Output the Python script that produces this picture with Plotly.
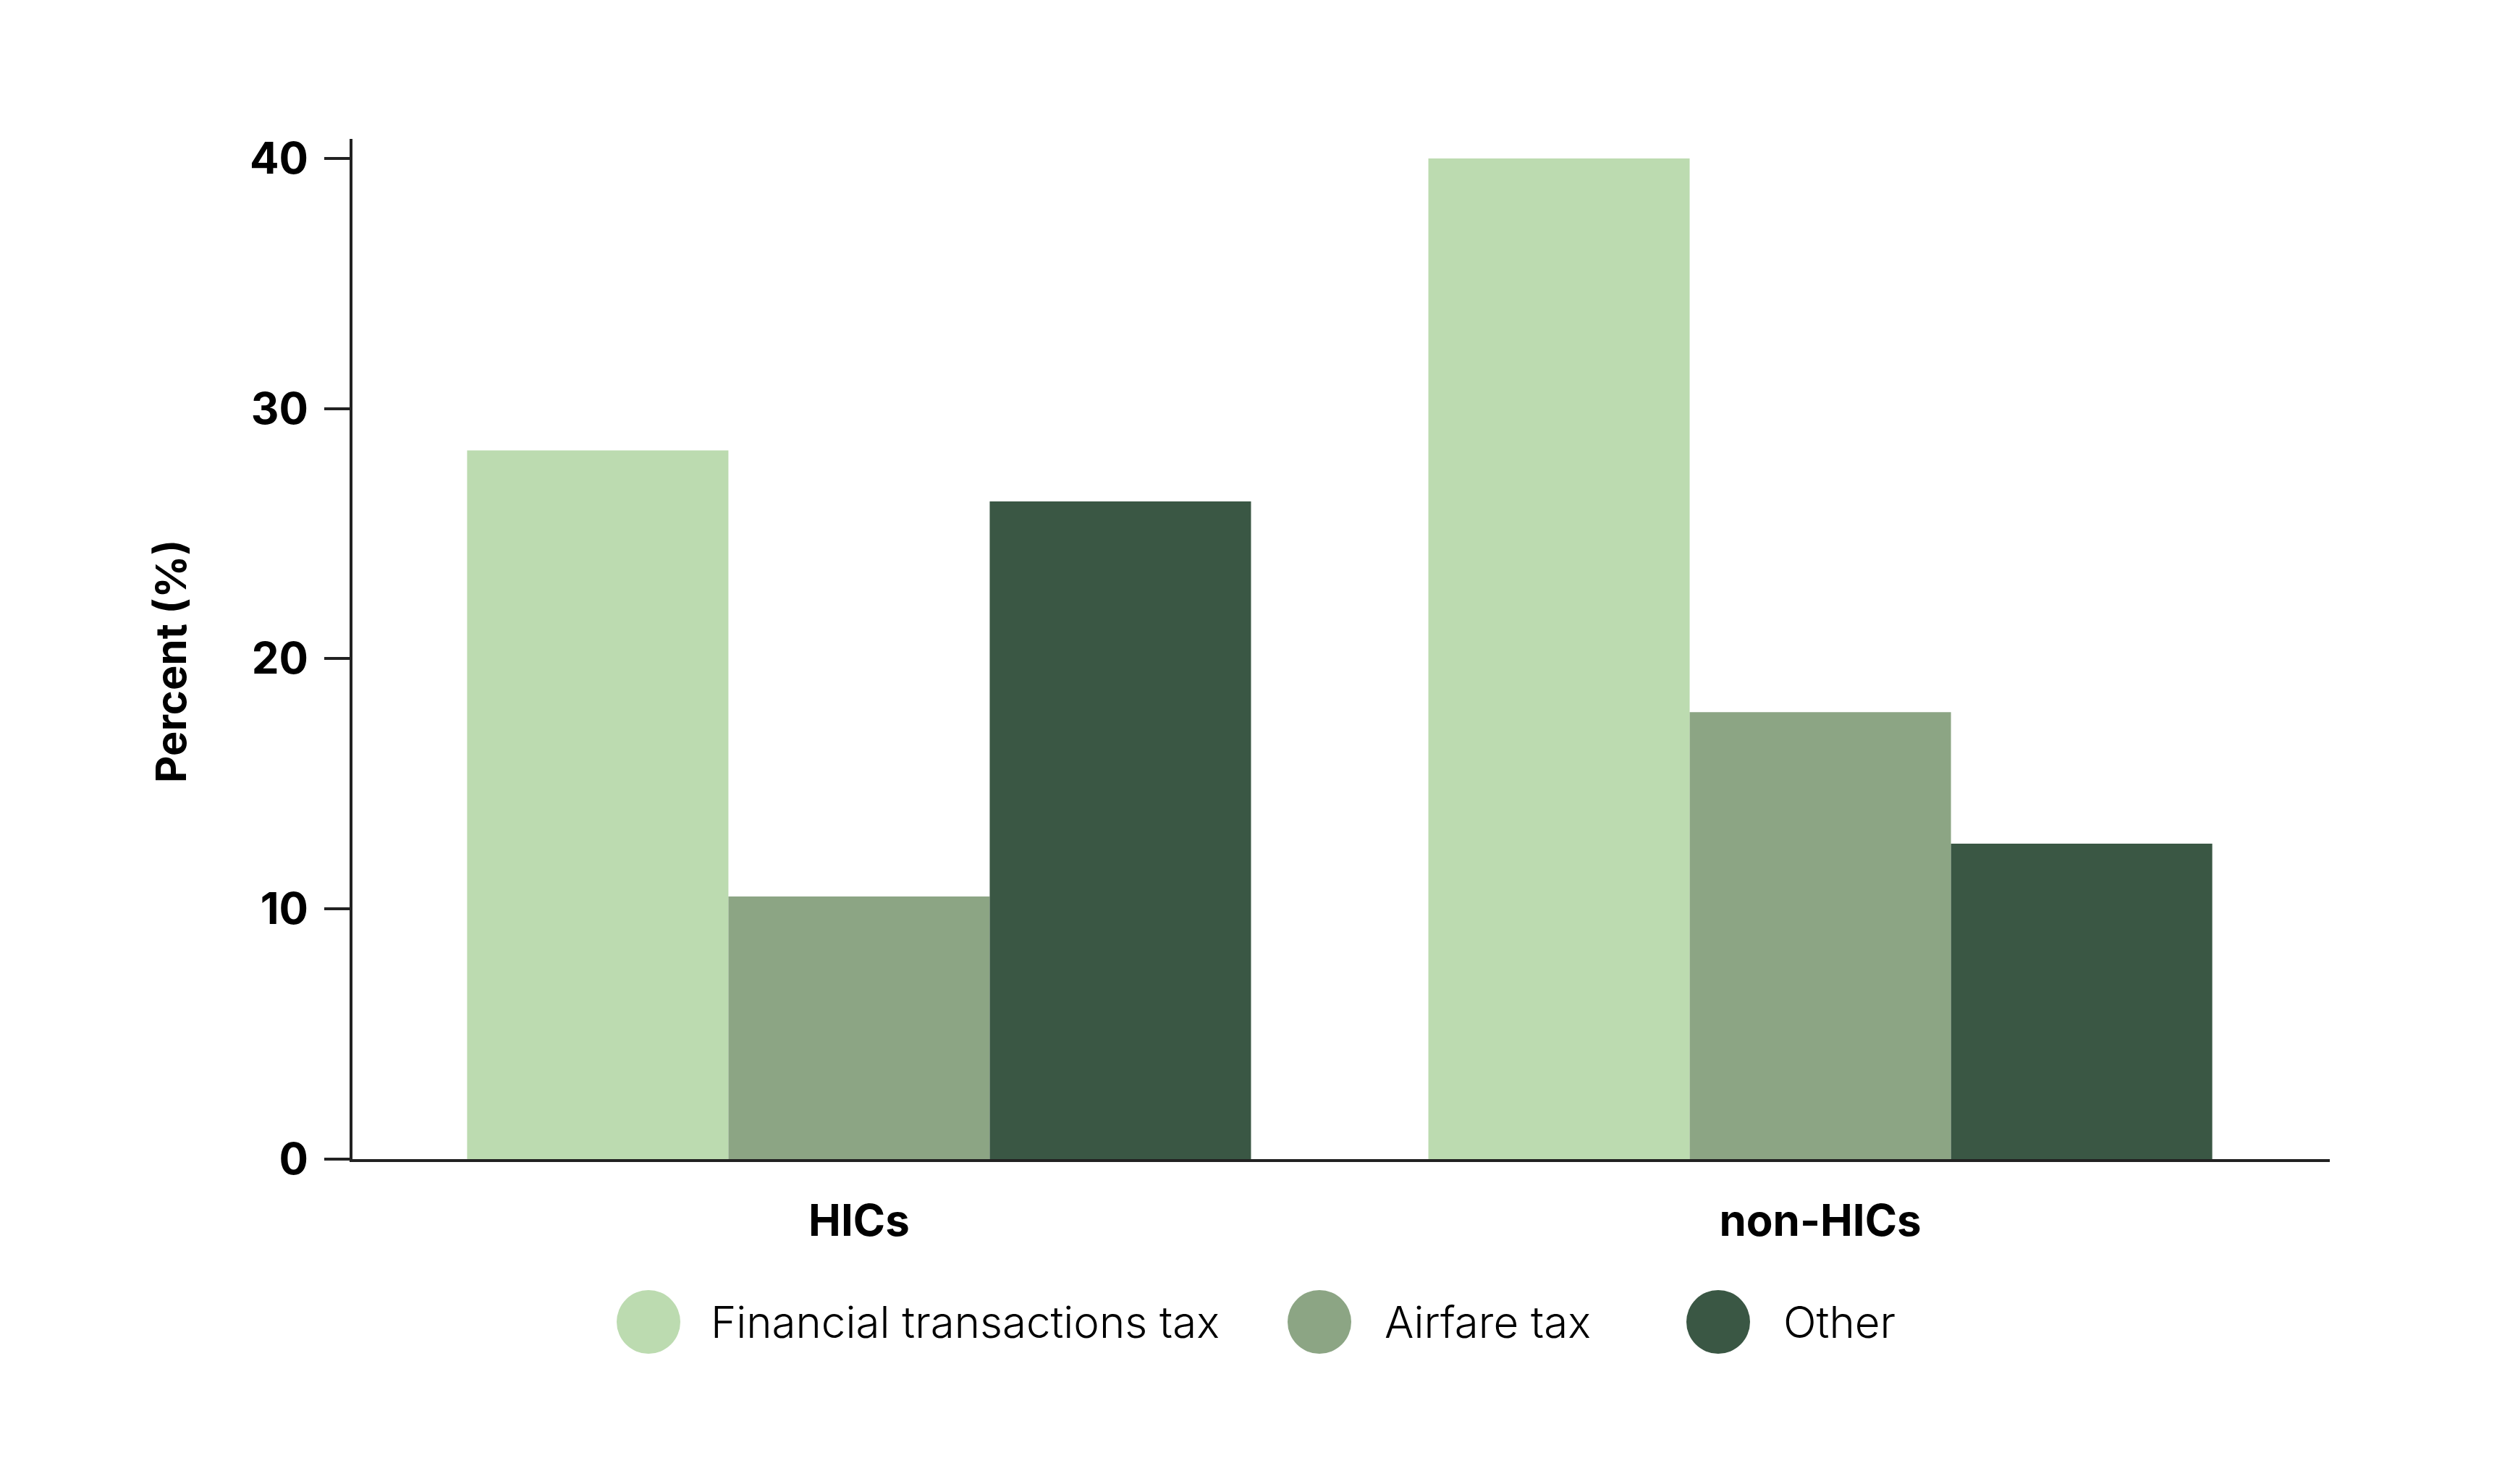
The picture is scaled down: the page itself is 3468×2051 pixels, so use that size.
import plotly.graph_objects as go

# data
groups = ['HICs', 'non-HICs']
series = ['Financial transactions tax', 'Airfare tax', 'Other']
ftt = [28.33, 40.0]
airfare = [10.50, 17.87]
other = [26.29, 12.61]
colors = ['#bcdbb0', '#8ca584', '#3a5744']
y_ticks = [0, 10, 20, 30, 40]

W, H = 3468, 2051
OFF = 8  # page body margin pushes the figure down/right
plot_x0, plot_x1, plot_y0, plot_y1 = 487, 3219, 192, 1602
L, T = plot_x0 - OFF, plot_y0 - OFF
R, B = W - (plot_x1 - OFF), H - (plot_y1 - OFF)
plot_w, plot_h = plot_x1 - plot_x0, plot_y1 - plot_y0

fig = go.Figure()
for name, vals, col in zip(series, [ftt, airfare, other], colors):
    fig.add_trace(go.Bar(x=groups, y=vals, name=name, marker=dict(color=col, line=dict(width=0)),
                         showlegend=False))

fig.update_layout(
    width=W, height=H,
    margin=dict(l=L, r=R, t=T, b=B),
    barmode='group', bargap=0.1845, bargroupgap=0,
    plot_bgcolor='white', paper_bgcolor='white',
    font=dict(family='Inter', color='black'),
)

fig.update_xaxes(range=[-0.527, 1.530], showline=True, linewidth=4, linecolor='#222222',
                 showgrid=False, zeroline=False, ticks='',
                 tickfont=dict(family='Inter', size=60, weight=700, color='black'),
                 ticklabelstandoff=30)
fig.update_yaxes(range=[0, 40.78], tickvals=y_ticks, showline=True, linewidth=4, linecolor='#222222',
                 showgrid=False, zeroline=False, ticks='outside', ticklen=35, tickwidth=4,
                 tickcolor='#222222',
                 tickfont=dict(family='Inter', size=60, weight=700, color='black'),
                 ticklabelstandoff=10)

# y title sits a bit below the middle of the axis in the original
fig.add_annotation(text='Percent (%)', xref='paper', yref='paper',
                   x=(236 - plot_x0) / plot_w, y=(plot_y1 - 914) / plot_h,
                   xanchor='center', yanchor='middle', textangle=-90, showarrow=False,
                   font=dict(family='Inter', size=58, weight=700, color='black'))

# custom legend with big round markers
leg_y = (plot_y1 - 1827) / plot_h
leg_cx = [896, 1823, 2374]
leg_gap = [84, 88, 88]
for name, col, cx, gap in zip(series, colors, leg_cx, leg_gap):
    px_ = (cx - plot_x0) / plot_w
    fig.add_shape(type='circle', xref='paper', yref='paper', xsizemode='pixel', ysizemode='pixel',
                  xanchor=px_, yanchor=leg_y, x0=-44, x1=44, y0=-44, y1=44,
                  fillcolor=col, line=dict(width=0))
    fig.add_annotation(text=name, xref='paper', yref='paper', x=px_, y=leg_y, xshift=gap,
                       xanchor='left', yanchor='middle', showarrow=False,
                       font=dict(family='Inter', size=60, weight=300, color='black'))

fig.write_html("out.html")
